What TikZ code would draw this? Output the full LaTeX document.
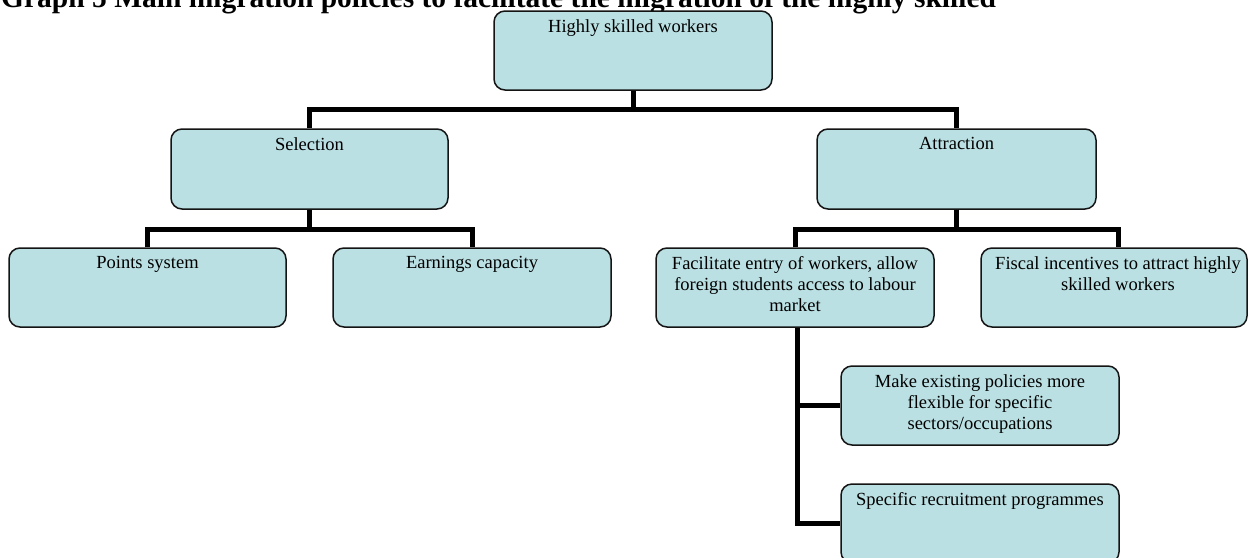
\documentclass[tikz,border=0pt]{standalone}
\usepackage{fontspec}
\setmainfont{Liberation Serif}
\definecolor{boxfill}{RGB}{186,224,227}
\definecolor{boxline}{RGB}{20,20,20}
\tikzset{
  box/.style={draw=boxline, line width=1.5pt, fill=boxfill, rounded corners=11pt, rectangle, inner sep=0pt, minimum height=79pt},
  boxtext/.style={anchor=north, inner sep=0pt, align=center, font=\fontsize{18.5pt}{21pt}\selectfont},
  conn/.style={draw=black, line width=5pt, line join=miter},
}
\begin{document}
\begin{tikzpicture}[x=1pt,y=-1pt]
\useasboundingbox (0,0) rectangle (1249,557);
\clip (0,0) rectangle (1249,557);
\node[anchor=base west, inner sep=0pt, font=\fontsize{29.5pt}{32pt}\selectfont\bfseries] (title) at (1,7) {Graph 5 Main migration policies to facilitate the migration of the highly skilled};

% boxes
\node[box, minimum width=278pt] (top) at (633,50.5) {};
\node[box, minimum width=277pt, minimum height=80pt] (sel) at (309.5,169) {};
\node[box, minimum width=279pt, minimum height=80pt] (att) at (956.5,169) {};
\node[box, minimum width=277pt] (pts) at (147.5,287.5) {};
\node[box, minimum width=278pt] (earn) at (472,287.5) {};
\node[box, minimum width=278pt] (fac) at (795,287.5) {};
\node[box, minimum width=266pt] (fis) at (1114,287.5) {};
\node[box, minimum width=278pt] (mk) at (980,405.5) {};
\node[box, minimum width=278pt] (spec) at (980,523.5) {};

% texts
\node[boxtext] (toptx) at ([yshift=-9pt]top.north) {Highly skilled workers};
\node[boxtext] (seltx) at ([yshift=-9pt]sel.north) {Selection};
\node[boxtext] (atttx) at ([yshift=-9pt]att.north) {Attraction};
\node[boxtext] (ptstx) at ([yshift=-9pt]pts.north) {Points system};
\node[boxtext] (earntx) at ([yshift=-9pt]earn.north) {Earnings capacity};
\node[boxtext] (factx) at ([yshift=-9pt]fac.north) {Facilitate entry of workers, allow\\foreign students access to labour\\market};
\node[boxtext] (fistx) at ([xshift=4pt,yshift=-9pt]fis.north) {Fiscal incentives to attract highly\\skilled workers};
\node[boxtext] (mktx) at ([yshift=-9pt]mk.north) {Make existing policies more\\flexible for specific\\sectors/occupations};
\node[boxtext] (spectx) at ([yshift=-9pt]spec.north) {Specific recruitment programmes};

% connectors
\coordinate (b1) at (633,109);
\coordinate (b2) at (309.5,229);
\coordinate (b3) at (956.5,229);
\draw[conn] (top.south) -- (b1);
\draw[conn] (sel.north) |- (b1) -| (att.north);
\draw[conn] (sel.south) -- (b2);
\draw[conn] (pts.north) |- (b2) -| (earn.north);
\draw[conn] (att.south) -- (b3);
\draw[conn] (fac.north) |- (b3) -| ([xshift=4pt]fis.north);
\coordinate (fx) at ([xshift=2pt]fac.south);
\draw[conn] (fx) |- (spec.west);
\draw[conn] (fx |- mk.west) -- (mk.west);
\end{tikzpicture}
\end{document}
